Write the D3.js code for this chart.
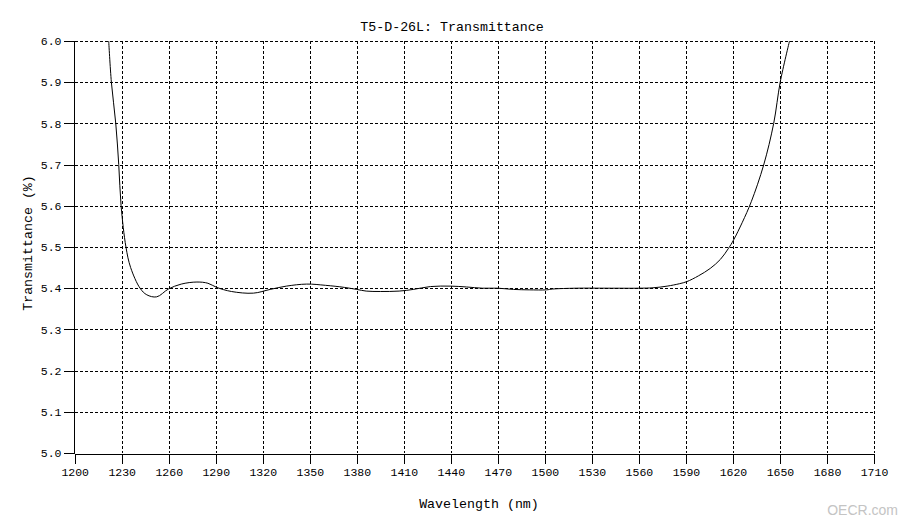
<!DOCTYPE html>
<html>
<head>
<meta charset="utf-8">
<script src="https://cdn.jsdelivr.net/npm/d3@7"></script>
<style>
  html, body { margin: 0; padding: 0; background: #fff; }
  svg { display: block; }
</style>
</head>
<body>
<svg id="chart" width="904" height="524"></svg>
<script>
const titleText = "T5-D-26L: Transmittance";
const xLabel = "Wavelength (nm)";
const yLabel = "Transmittance (%)";
const xTicks = [1200,1230,1260,1290,1320,1350,1380,1410,1440,1470,1500,1530,1560,1590,1620,1650,1680,1710];
const yTicks = [5.0,5.1,5.2,5.3,5.4,5.5,5.6,5.7,5.8,5.9,6.0];
const wavelength = [1221.7,1223.4,1226.2,1228.1,1229.6,1232.7,1235.7,1241.7,1246,1252.3,1259.8,1268,1278,1285,1290.6,1300,1314,1324.7,1335,1348,1360,1372,1380,1386,1395,1407,1416,1427,1440,1450,1460,1470,1480,1490,1501,1505,1520,1540,1560,1569,1578,1586,1590.6,1598,1605.5,1612,1617.2,1620.4,1626,1631.7,1639.6,1646,1650.2,1656.1];
const transmittance = [6.0,5.9,5.8,5.7,5.6,5.5,5.45,5.40,5.384,5.379,5.398,5.41,5.415,5.412,5.402,5.392,5.388,5.397,5.405,5.41,5.407,5.402,5.397,5.393,5.392,5.393,5.397,5.404,5.405,5.403,5.400,5.400,5.397,5.396,5.396,5.398,5.400,5.400,5.400,5.401,5.405,5.411,5.416,5.43,5.448,5.47,5.497,5.517,5.56,5.61,5.699,5.80,5.901,6.0];

const svg = d3.select("#chart");
const L = 74.7, R = 874, T = 41, B = 453;
const x = d3.scaleLinear().domain([1200,1710]).range([L,R]);
const y = d3.scaleLinear().domain([5.0,6.0]).range([B,T]);
const mono = "'Liberation Mono', 'DejaVu Sans Mono', monospace";

// grid
const grid = svg.append("g").attr("stroke","#000").attr("stroke-width",1).attr("stroke-dasharray","3,2").attr("shape-rendering","crispEdges");
grid.selectAll("line.v").data(xTicks.slice(1)).join("line")
  .attr("x1", d => Math.round(x(d))+0.5).attr("x2", d => Math.round(x(d))+0.5)
  .attr("y1", T).attr("y2", B);
grid.selectAll("line.h").data(yTicks.slice(1)).join("line")
  .attr("y1", d => Math.round(y(d))+0.5).attr("y2", d => Math.round(y(d))+0.5)
  .attr("x1", L).attr("x2", R);

// axes
const xAxis = d3.axisBottom(x).tickValues(xTicks).tickFormat(d3.format("d")).tickSize(10).tickSizeOuter(0).tickPadding(4);
const yAxis = d3.axisLeft(y).tickValues(yTicks).tickFormat(d3.format(".1f")).tickSize(11).tickSizeOuter(0).tickPadding(2);
const gx = svg.append("g").attr("transform", `translate(0,${Math.round(B)+0.5})`).call(xAxis);
const gy = svg.append("g").attr("transform", `translate(${Math.round(L)-0.5},0)`).call(yAxis);
[gx, gy].forEach(g => {
  g.selectAll("path, line").attr("stroke","#000").attr("shape-rendering","crispEdges");
  g.selectAll("text").attr("font-family", mono).attr("font-size", "11.5px").attr("fill","#000");
});
gy.select(".domain").attr("d", `M0,${T}V${Math.round(B)+1}`);

// clip
svg.append("clipPath").attr("id","clip").append("rect").attr("x",L).attr("y",T).attr("width",R-L).attr("height",B-T);

const pts = wavelength.map((w,i) => [w, transmittance[i]]);
const line = d3.line().x(d => x(d[0])).y(d => y(d[1])).curve(d3.curveCatmullRom.alpha(0.5));
svg.append("path").datum(pts).attr("clip-path","url(#clip)")
  .attr("fill","none").attr("stroke","#000").attr("stroke-width",1).attr("d", line);

// titles
svg.append("text").attr("x", 452).attr("y", 31).attr("text-anchor","middle")
  .attr("font-family", mono).attr("font-size","13.3px").text(titleText);
svg.append("text").attr("x", 479).attr("y", 508).attr("text-anchor","middle")
  .attr("font-family", mono).attr("font-size","13.3px").text(xLabel);
svg.append("text").attr("transform","translate(32,243) rotate(-90)").attr("text-anchor","middle")
  .attr("font-family", mono).attr("font-size","13.3px").text(yLabel);

// watermark
svg.append("text").attr("x", 898).attr("y", 515).attr("text-anchor","end")
  .attr("font-family","'Liberation Sans', Arial, sans-serif").attr("font-size","14px")
  .attr("fill","#c4c4c4").text("OECR.com");
</script>
</body>
</html>
